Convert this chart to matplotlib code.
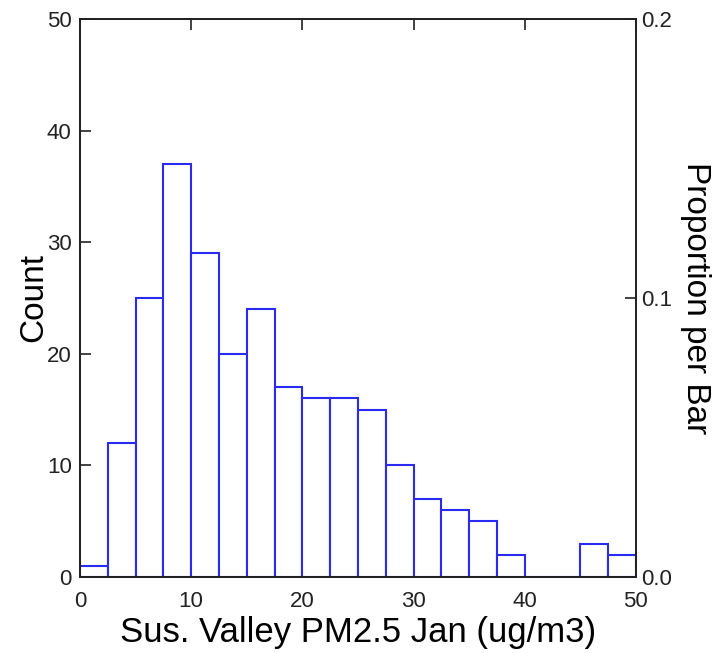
import matplotlib
matplotlib.use("Agg")
import matplotlib.pyplot as plt
import numpy as np

bin_edges = [0, 2.5, 5, 7.5, 10, 12.5, 15, 17.5, 20, 22.5, 25, 27.5, 30, 32.5, 35, 37.5, 40, 42.5, 45, 47.5, 50]
counts = [1, 12, 25, 37, 29, 20, 24, 17, 16, 16, 15, 10, 7, 6, 5, 2, 0, 0, 3, 2]
x_ticks = [0, 10, 20, 30, 40, 50]
y_ticks = [0, 10, 20, 30, 40, 50]
prop_ticks = [0.0, 0.1, 0.2]
prop_labels = ["0.0", "0.1", "0.2"]
n_total = 250

plt.rcParams['font.family'] = ['Liberation Sans', 'DejaVu Sans']

fig = plt.figure(figsize=(7.12, 6.53), dpi=100)
ax = fig.add_axes([0.1124, 0.1164, 0.7806, 0.8545])

lefts = bin_edges[:-1]
widths = np.diff(bin_edges)
ax.bar(lefts, counts, width=widths, align='edge', facecolor='white',
       edgecolor='#2a2af0', linewidth=1.5, zorder=2)

ax.set_xlim(0, 50)
ax.set_ylim(0, 50)
ax.set_xticks(x_ticks)
ax.set_yticks(y_ticks)
ax.tick_params(axis='both', direction='in', length=8, width=1.2, labelsize=16,
               colors='#222222', pad=6)
ax.tick_params(axis='x', top=True, pad=10)
for s in ax.spines.values():
    s.set_linewidth(1.3)
    s.set_color('#222222')

ax.set_xlabel("Sus. Valley PM2.5 Jan (ug/m3)", fontsize=25, labelpad=3)
ax.set_ylabel("Count", fontsize=24, labelpad=-2)

ax2 = ax.twinx()
ax2.set_ylim(0, 50 / n_total)
ax2.set_yticks(prop_ticks)
ax2.set_yticklabels(prop_labels)
ax2.tick_params(axis='y', direction='in', length=8, width=1.2, labelsize=16,
                colors='#222222', pad=4)
for s in ax2.spines.values():
    s.set_linewidth(1.3)
    s.set_color('#222222')
ax2.set_ylabel("Proportion per Bar", fontsize=24, rotation=270, labelpad=28)

fig.savefig("out.png", dpi=100)
